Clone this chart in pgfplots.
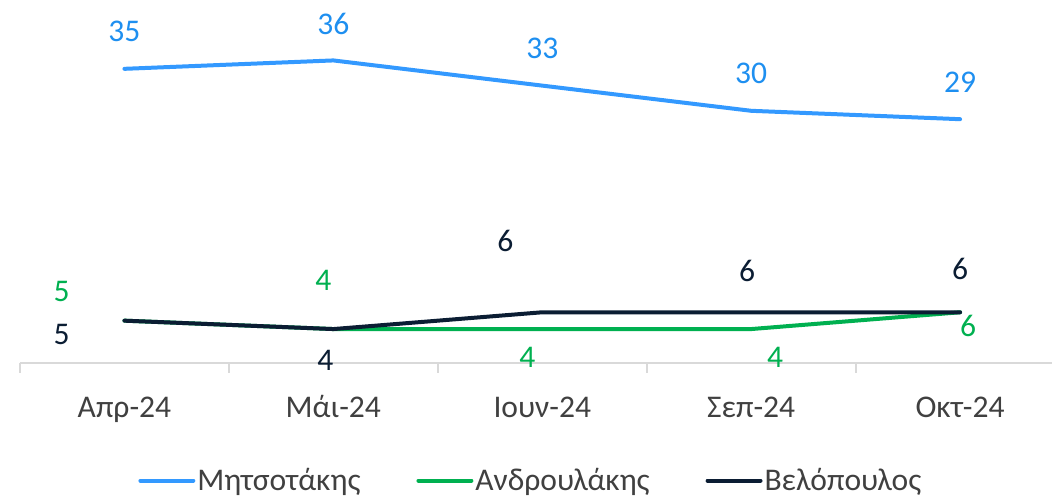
\documentclass[border=0pt]{standalone}
\usepackage{fontspec}
\setmainfont{Carlito}
\usepackage{pgfplots}
\pgfplotsset{compat=1.18}
\usepackage{pgfplotstable}

\definecolor{cblue}{HTML}{3399FF}
\definecolor{cbluetxt}{HTML}{1E8FF0}
\definecolor{cgreen}{HTML}{00B050}
\definecolor{cnavy}{HTML}{0B1D33}
\definecolor{cgray}{HTML}{404040}
\definecolor{caxis}{HTML}{D9D9D9}

% x y label-offsets (pt)
\pgfplotstableread{
x y dx dy
0 35 0 18.5
1 36 0 18.5
2 33 0 18.5
3 30 0 18.5
4 29 0 18.5
}\mitsotakis
\pgfplotstableread{
x y dx dy
0 5 -31.5 14.5
1 4 -5 24.5
2 4 -7.5 -14
3 4 12 -14
4 6 4 -7
}\androulakis
\pgfplotstableread{
x y dx dy
0 5 -31.5 -7
1 4 -4 -15.5
2 6 -18.5 35.5
3 6 -2 20.5
4 6 0 21.5
}\velopoulos

\newcommand{\chartfont}{\fontsize{15.8}{18}\selectfont}

\begin{document}
\begin{tikzpicture}
\begin{axis}[
  scale only axis,
  width=516.5pt, height=181.5pt,
  xmin=-0.5, xmax=4.44, ymin=0, ymax=43.2,
  axis y line=none, axis x line*=bottom,
  axis line style={caxis, line width=1pt},
  xtick={0,...,4},
  xticklabels={Απρ-24,Μάι-24,Ιουν-24,Σεπ-24,Οκτ-24},
  minor xtick={-0.5,0.5,1.5,2.5,3.5},
  major tick length=0pt, minor tick length=5pt,
  xtick align=outside,
  xtick style={caxis, line width=1pt},
  xticklabel style={text=cgray, font=\chartfont, anchor=base, yshift=-27.5pt},
  clip=false,
  /pgf/number format/assume math mode=true,
  legend style={at={(0.495,-0.325)}, anchor=center, draw=none, fill=none,
    legend columns=3, font=\chartfont, text=cgray,
    /tikz/every even column/.append style={column sep=27pt},
    nodes={inner sep=1pt}},
  legend image code/.code={\draw[#1, line width=2pt] (0pt,0pt) -- (26.5pt,0pt);},
  labelled/.style={
    nodes near coords,
    visualization depends on={\thisrow{dx} \as \dx},
    visualization depends on={\thisrow{dy} \as \dy},
    every node near coord/.append style={anchor=center, font=\chartfont,
      text=#1, xshift=\dx, yshift=\dy}},
]
\addplot[cblue, line width=2pt, line cap=round, labelled=cbluetxt]
  table[x=x, y=y] {\mitsotakis};
\addlegendentry{Μητσοτάκης}
\addplot[cgreen, line width=2pt, line cap=round, labelled=cgreen]
  table[x=x, y=y] {\androulakis};
\addlegendentry{Ανδρουλάκης}
\addplot[cnavy, line width=2pt, line cap=round, labelled=cnavy]
  table[x=x, y=y] {\velopoulos};
\addlegendentry{Βελόπουλος}
\path (axis cs:-0.5957,-15.71) rectangle (axis cs:4.44,43.2);
\end{axis}
\end{tikzpicture}
\end{document}
